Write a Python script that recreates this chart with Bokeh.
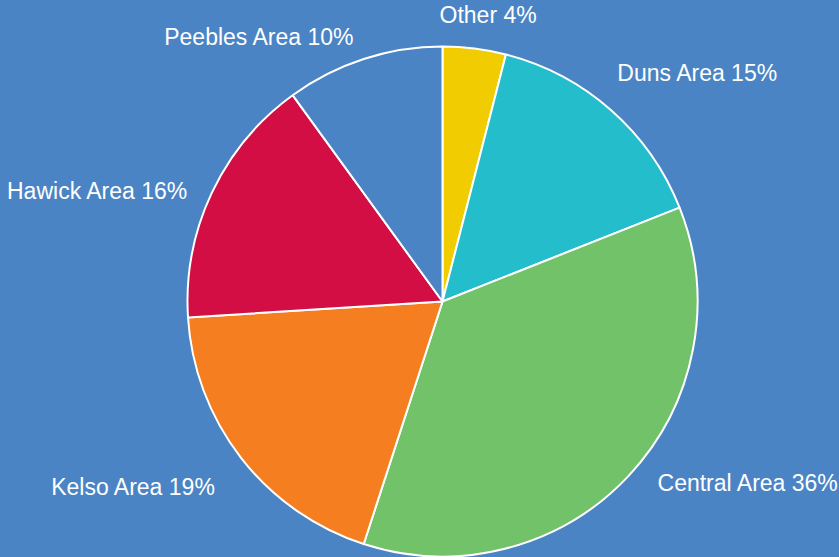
import math
from bokeh.plotting import figure
from bokeh.models import ColumnDataSource, Range1d
from bokeh.core.properties import value
from bokeh.embed import file_html
from bokeh.resources import INLINE

# ---- data ----
categories = ["Other", "Duns Area", "Central Area", "Kelso Area", "Hawick Area", "Peebles Area"]
shares = [4, 15, 36, 19, 16, 10]
slice_colors = ["#f0cc00", "#24bdcb", "#72c26a", "#f47e20", "#d20e44", "#4b84c4"]

# ---- layout ----
BG = "#4b84c4"
W, H = 839, 557
CX, CY = 442, 256          # pie centre in frame pixels (y up)
R = 255                    # pie radius
LR = 284                   # label radius
# small label nudges (dx right, dy down) in pixels, like a label-distribution step
label_nudge = [(10, -5), (-13, -15), (8, -13), (-2, 11), (3, 10), (0, 6)]

total = float(sum(shares))
starts, ends, lx, ly, aligns, texts = [], [], [], [], [], []
cum = 0.0
for (cat, s), (ndx, ndy) in zip(zip(categories, shares), label_nudge):
    a0 = cum / total
    cum += s
    a1 = cum / total
    starts.append(math.pi / 2 - 2 * math.pi * a0)
    ends.append(math.pi / 2 - 2 * math.pi * a1)
    mid = 2 * math.pi * (a0 + a1) / 2     # clockwise from top
    sx, cy = math.sin(mid), math.cos(mid)
    lx.append(CX + sx * LR + ndx)
    ly.append(CY + cy * LR - ndy)
    aligns.append("left" if sx > 0.2 else ("right" if sx < -0.2 else "center"))
    texts.append(f"{cat} {s}%")

wsrc = ColumnDataSource(dict(start=starts, end=ends, color=slice_colors))
tsrc = ColumnDataSource(dict(x=lx, y=ly, text=texts, align=aligns))

p = figure(width=W, height=H, x_range=Range1d(0, W), y_range=Range1d(0, H),
           output_backend="svg", toolbar_location=None, min_border=0)
p.axis.visible = False
p.grid.visible = False
p.outline_line_color = None
p.background_fill_color = BG
p.border_fill_color = BG

p.wedge(x=CX, y=CY, radius=R, start_angle="start", end_angle="end",
        direction="clock", fill_color="color", line_color="white",
        line_width=2, source=wsrc)

p.text(x="x", y="y", text="text", text_align="align", text_baseline="middle",
       text_font=value("Liberation Sans"), text_font_size="23px",
       text_color="white", source=tsrc)

html = file_html(p, INLINE)
html = html.replace("</head>", "<style>body{background:%s}</style></head>" % BG, 1)
open("out.html", "w").write(html)
